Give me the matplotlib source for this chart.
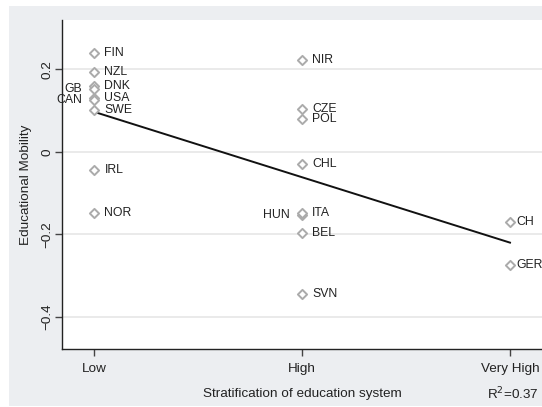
import matplotlib
matplotlib.use("Agg")
import matplotlib.pyplot as plt

plt.rcParams['font.family'] = ['Liberation Sans', 'DejaVu Sans']

# ---- data ----
categories = ["Low", "High", "Very High"]
countries = ["FIN", "NZL", "DNK", "GB", "USA", "CAN", "SWE", "IRL", "NOR",
             "NIR", "CZE", "POL", "CHL", "HUN", "ITA", "BEL", "SVN",
             "CH", "GER"]
stratification = [0, 0, 0, 0, 0, 0, 0, 0, 0,
                  1, 1, 1, 1, 1, 1, 1, 1,
                  2, 2]
mobility = [0.240, 0.193, 0.161, 0.152, 0.132, 0.126, 0.102, -0.044, -0.148,
            0.223, 0.105, 0.079, -0.030, -0.152, -0.147, -0.197, -0.345,
            -0.170, -0.275]
label_side = ["r", "r", "r", "l", "r", "l", "r", "r", "r",
              "r", "r", "r", "r", "l", "r", "r", "r",
              "rc", "rc"]
fit_x = [0, 2]
fit_y = [0.097, -0.220]
yticks = [-0.4, -0.2, 0, 0.2]
ytick_labels = ["\u22120.4", "\u22120.2", "0", "0.2"]
r2_text = "R$^2$=0.37"

# ---- figure ----
W, H = 542, 407
fig = plt.figure(figsize=(W / 100, H / 100), dpi=100, facecolor="white")

bg = fig.add_axes([9 / W, 1 / H, 1 - 9 / W, 1 - 7 / H], zorder=0)
bg.set_facecolor("#eceef1")
bg.set_xticks([])
bg.set_yticks([])
for s in bg.spines.values():
    s.set_visible(False)

ax = fig.add_axes([62 / W, 1 - 349 / H, 1 - 62 / W, (349 - 20) / H], zorder=1)
ax.set_facecolor("white")
ax.set_xlim(-0.156, 2.154)
ax.set_ylim(-0.478, 0.320)

for s in ["top", "right"]:
    ax.spines[s].set_visible(False)
for s in ["left", "bottom"]:
    ax.spines[s].set_color("#222222")
    ax.spines[s].set_linewidth(1.0)

ax.set_yticks(yticks)
ax.set_yticklabels(ytick_labels, rotation=90, va="center")
ax.set_xticks(range(len(categories)))
ax.set_xticklabels(categories)
ax.tick_params(axis="both", direction="out", length=5, width=1,
               color="#444444", labelsize=9.7, labelcolor="#222222")
ax.tick_params(axis="y", pad=1)
ax.tick_params(axis="x", pad=5)
ax.yaxis.grid(True, color="#e6e6e6", linewidth=1.2)
ax.set_axisbelow(True)

ax.plot(fit_x, fit_y, color="#111111", linewidth=1.4, zorder=2)
ax.scatter(stratification, mobility, marker="D", s=22, facecolors="white",
           edgecolors="#ababab", linewidths=1.4, zorder=3)

for c, xv, yv, side in zip(countries, stratification, mobility, label_side):
    if side == "l":
        ax.annotate(c, (xv, yv), xytext=(-12, 0), textcoords="offset pixels",
                    ha="right", va="center", fontsize=8.8, color="#222222")
    elif side == "rc":
        ax.annotate(c, (xv, yv), xytext=(6, 0), textcoords="offset pixels",
                    ha="left", va="center", fontsize=8.8, color="#222222",
                    annotation_clip=False)
    else:
        ax.annotate(c, (xv, yv), xytext=(10, 0), textcoords="offset pixels",
                    ha="left", va="center", fontsize=8.8, color="#222222")

ax.set_ylabel("Educational Mobility", fontsize=9.7, color="#222222", labelpad=7)
fig.text(302 / W, 1 - 394 / H, "Stratification of education system",
         ha="center", va="center", fontsize=9.7, color="#222222", zorder=2)
fig.text(539 / W, 1 - 394 / H, r2_text, ha="right", va="center",
         fontsize=9.7, color="#222222", zorder=2)

fig.savefig("out.png", dpi=100, facecolor=fig.get_facecolor())
